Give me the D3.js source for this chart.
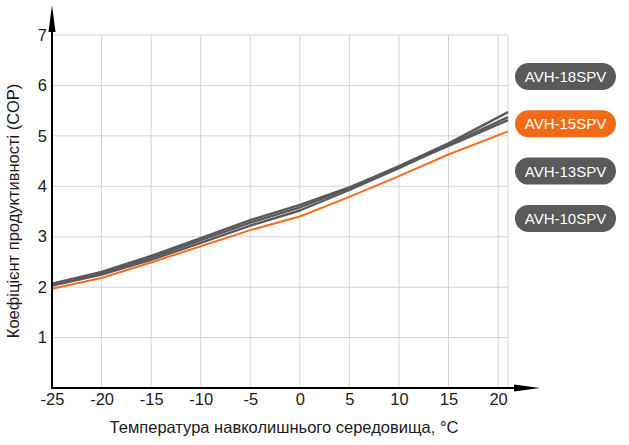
<!DOCTYPE html>
<html>
<head>
<meta charset="utf-8">
<script src="https://cdn.jsdelivr.net/npm/d3@7"></script>
<style>
  body { margin: 0; background: #fff; }
  text { font-family: "Liberation Sans", Arial, sans-serif; }
</style>
</head>
<body>
<div id="chart"></div>
<script>
// data
var temps = [-25, -20, -15, -10, -5, 0, 5, 10, 15, 21];
var cop18 = [2.07, 2.30, 2.62, 2.97, 3.33, 3.63, 3.98, 4.38, 4.80, 5.31];
var cop15 = [1.97, 2.18, 2.49, 2.81, 3.13, 3.40, 3.79, 4.20, 4.63, 5.09];
var cop13 = [2.05, 2.28, 2.58, 2.93, 3.28, 3.58, 3.97, 4.40, 4.85, 5.47];
var cop10 = [2.03, 2.25, 2.54, 2.88, 3.22, 3.52, 3.93, 4.36, 4.82, 5.37];
var models = ["AVH-18SPV", "AVH-15SPV", "AVH-13SPV", "AVH-10SPV"];
var xTicks = [-25, -20, -15, -10, -5, 0, 5, 10, 15, 20];
var yTicks = [1, 2, 3, 4, 5, 6, 7];

var gray = "#5a5a5a", orange = "#f06e1e";
var series = [
  {name: models[0], values: cop18, color: gray},
  {name: models[2], values: cop13, color: gray},
  {name: models[3], values: cop10, color: gray},
  {name: models[1], values: cop15, color: orange}
];

var width = 629, height = 445;
var margin = {left: 52, right: 508, top: 35, bottom: 388};

var svg = d3.select("#chart")
  .append("svg")
    .attr("width", width)
    .attr("height", height);

var x = d3.scaleLinear()
  .domain([-25, 21])
  .range([margin.left, margin.right]);

var y = d3.scaleLinear()
  .domain([0, 7])
  .range([margin.bottom, margin.top]);

// grid
var grid = svg.append("g")
  .attr("stroke", "#d3d3d3")
  .attr("stroke-width", 1);

grid.selectAll("line.h")
  .data(yTicks)
  .enter().append("line")
    .attr("class", "h")
    .attr("x1", margin.left)
    .attr("x2", margin.right)
    .attr("y1", function (d) { return y(d); })
    .attr("y2", function (d) { return y(d); });

grid.selectAll("line.v")
  .data(xTicks.slice(1).concat([21]))
  .enter().append("line")
    .attr("class", "v")
    .attr("x1", function (d) { return x(d); })
    .attr("x2", function (d) { return x(d); })
    .attr("y1", margin.top)
    .attr("y2", margin.bottom);

// lines
var line = d3.line()
  .x(function (d, i) { return x(temps[i]); })
  .y(function (d) { return y(d); });

svg.append("g")
  .selectAll("path")
  .data(series)
  .enter().append("path")
    .attr("fill", "none")
    .attr("stroke", function (d) { return d.color; })
    .attr("stroke-width", function (d) { return d.color == gray ? 2.4 : 2; })
    .attr("stroke-linejoin", "round")
    .attr("d", function (d) { return line(d.values); });

// axes
var plain = function (d) { return String(d); };

var xAxis = svg.append("g")
  .attr("transform", "translate(0," + margin.bottom + ")")
  .call(d3.axisBottom(x).tickValues(xTicks).tickFormat(plain).tickSize(0).tickPadding(5.5));
xAxis.select(".domain").remove();
xAxis.selectAll("text")
  .attr("font-size", 16.5)
  .attr("fill", "#1a1a1a")
  .style("font-family", "Liberation Sans, Arial, sans-serif");

var yAxis = svg.append("g")
  .attr("transform", "translate(" + margin.left + ",0)")
  .call(d3.axisLeft(y).tickValues(yTicks).tickFormat(plain).tickSize(0).tickPadding(5));
yAxis.select(".domain").remove();
yAxis.selectAll("text")
  .attr("font-size", 16.5)
  .attr("fill", "#1a1a1a")
  .style("font-family", "Liberation Sans, Arial, sans-serif");

// axis lines with arrows
svg.append("line")
  .attr("x1", margin.left).attr("x2", margin.left)
  .attr("y1", margin.bottom + 1).attr("y2", 28)
  .attr("stroke", "#000").attr("stroke-width", 2);
svg.append("path")
  .attr("d", "M" + margin.left + ",5 L" + (margin.left + 3.5) + ",32 L" + (margin.left - 3.5) + ",32 Z")
  .attr("fill", "#000");

svg.append("line")
  .attr("x1", margin.left - 1).attr("x2", 518)
  .attr("y1", margin.bottom).attr("y2", margin.bottom)
  .attr("stroke", "#000").attr("stroke-width", 2);
svg.append("path")
  .attr("d", "M540," + margin.bottom + " L514," + (margin.bottom - 3.5) + " L514," + (margin.bottom + 3.5) + " Z")
  .attr("fill", "#000");

// axis titles
svg.append("text")
  .attr("x", 284)
  .attr("y", 433)
  .attr("text-anchor", "middle")
  .attr("font-size", 16.5)
  .attr("fill", "#1a1a1a")
  .text("Температура навколишнього середовища, °С");

svg.append("text")
  .attr("transform", "translate(19,211) rotate(-90)")
  .attr("text-anchor", "middle")
  .attr("font-size", 16.5)
  .attr("fill", "#1a1a1a")
  .text("Коефіцієнт продуктивності (СОР)");

// legend pills
var legend = svg.append("g")
  .selectAll("g")
  .data(models)
  .enter().append("g")
    .attr("transform", function (d, i) { return "translate(515," + (63 + i * 47.3) + ")"; });

legend.append("rect")
  .attr("width", 101)
  .attr("height", 27)
  .attr("rx", 13.5)
  .attr("fill", function (d, i) { return i == 1 ? "#f26b16" : gray; });

legend.append("text")
  .attr("x", 50.5)
  .attr("y", 19)
  .attr("text-anchor", "middle")
  .attr("font-size", 15)
  .attr("fill", "#fff")
  .text(function (d) { return d; });
</script>
</body>
</html>
